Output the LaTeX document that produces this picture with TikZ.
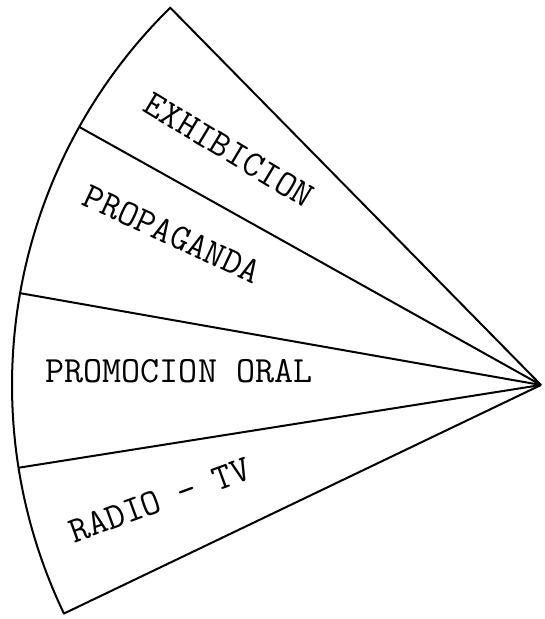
\documentclass[tikz,border=0pt]{standalone}
\usetikzlibrary{calc}

\begin{document}
\begin{tikzpicture}[
    x=1pt, y=1pt,
    ray/.style={line width=2pt, line join=round},
    sect/.style={font=\ttfamily\fontsize{37}{37}\selectfont, inner sep=0pt}
]
\useasboundingbox (0,0) rectangle (544,619);
\coordinate (apex) at (541,234);
\coordinate (top) at ($(apex)+(134.5:529)$);
\coordinate (d1) at ($(apex)+(150.8:529)$);
\coordinate (d2) at ($(apex)+(170.0:529)$);
\coordinate (d3) at ($(apex)+(189.0:529)$);
\coordinate (bot) at ($(apex)+(205.6:529)$);

\draw[ray] (apex) -- (top) arc[start angle=134.5, end angle=205.6, radius=529] -- (apex);
\draw[ray] (apex) -- (d1);
\draw[ray] (apex) -- (d2);
\draw[ray] (apex) -- (d3);

\node[sect, rotate=-31] (exh) at (229,469) {EXHIBICION};
\node[sect, rotate=-25] (prop) at (172,385) {PROPAGANDA};
\node[sect] (oral) at (179,248) {PROMOCION ORAL};
\node[sect, rotate=20] (radio) at (160,119) {RADIO - TV};
\end{tikzpicture}
\end{document}
